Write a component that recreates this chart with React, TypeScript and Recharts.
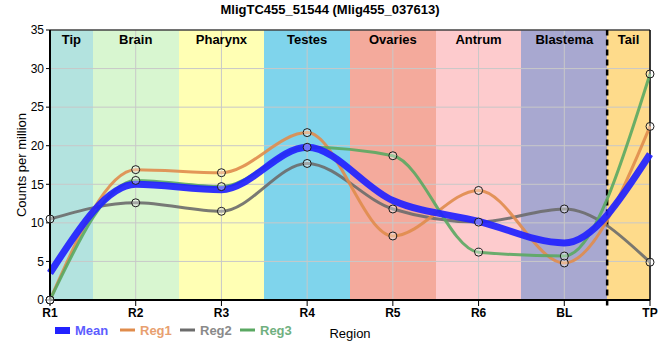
import React from 'react';
import {
  ComposedChart,
  Line,
  XAxis,
  YAxis,
  CartesianGrid,
  ReferenceArea,
  ReferenceLine,
} from 'recharts';

const title = 'MligTC455_51544 (Mlig455_037613)';
const categories = ['R1', 'R2', 'R3', 'R4', 'R5', 'R6', 'BL', 'TP'];
const meanValues = [3.5, 15.0, 14.3, 19.8, 12.9, 10.2, 7.4, 18.9];
const reg1Values = [0, 16.9, 16.5, 21.7, 8.3, 14.2, 4.8, 22.5];
const reg2Values = [10.5, 12.6, 11.5, 17.7, 11.8, 10.1, 11.8, 4.9];
const reg3Values = [0, 15.5, 14.7, 19.8, 18.7, 6.2, 5.7, 29.3];
const regionNames = ['Tip', 'Brain', 'Pharynx', 'Testes', 'Ovaries', 'Antrum', 'Blastema', 'Tail'];
const regionColors = ['#b3e3df', '#d8f6d0', '#ffffb4', '#7fd4ec', '#f4aa9c', '#fdcbcd', '#a8a8d0', '#fedb8b'];
const yTicks = [0, 5, 10, 15, 20, 25, 30, 35];

const FONT = '"Liberation Sans", Arial, sans-serif';

const data = categories.map((c, i) => ({
  x: i,
  mean: meanValues[i],
  reg1: reg1Values[i],
  reg2: reg2Values[i],
  reg3: reg3Values[i],
}));

const last = categories.length - 1;
const regionStarts = regionNames.map((_, i) => Math.max(0, i - 0.5));

const seriesStyle = [
  { key: 'mean', name: 'Mean', color: '#2222ff', text: '#5c5cff' },
  { key: 'reg1', name: 'Reg1', color: '#e08c4c', text: '#e8a070' },
  { key: 'reg2', name: 'Reg2', color: '#6c6c6c', text: '#8a8a8a' },
  { key: 'reg3', name: 'Reg3', color: '#5aa862', text: '#70b080' },
];

const dotStyle = { r: 4, fill: 'rgba(255,255,255,0.35)', stroke: '#1a1a1a', strokeWidth: 1 };

const regionGenerator = (props: any) => {
  const scale = props?.xAxis?.scale;
  const off = props?.offset;
  const toPx = (b: number): number => {
    if (typeof scale === 'function') return scale(b);
    if (scale && typeof scale.map === 'function') return scale.map(b);
    if (off) return off.left + (b / last) * off.width;
    return 0;
  };
  return regionStarts.map((b) => Math.round(toPx(b)));
};

export default function App() {
  const legendX = [55, 120, 180, 240];
  return (
    <div style={{ position: 'absolute', left: 0, top: 0, width: 660, height: 360, fontFamily: FONT }}>
      <div
        style={{
          position: 'absolute',
          top: 2,
          left: 0,
          width: 660,
          textAlign: 'center',
          fontWeight: 'bold',
          fontSize: 13,
          color: '#000',
        }}
      >
        {title}
      </div>
      <ComposedChart
        width={660}
        height={360}
        data={data}
        margin={{ top: 30, right: 10, left: 0, bottom: 0 }}
        style={{ fontFamily: FONT }}
      >
        <CartesianGrid
          horizontal={false}
          vertical
          stroke="none"
          verticalFill={regionColors}
          fillOpacity={1}
          verticalCoordinatesGenerator={regionGenerator}
        />
        <CartesianGrid stroke="#c8c8c8" strokeWidth={1} />
        {regionNames.map((name, i) => (
          <ReferenceArea
            key={name}
            x1={regionStarts[i]}
            x2={Math.min(last, i + 0.5)}
            y1={0}
            y2={35}
            fill="none"
            fillOpacity={0}
            stroke="none"
            label={{ value: name, position: 'insideTop', fill: '#000', fontWeight: 'bold', fontSize: 13, offset: 5 }}
          />
        ))}
        <XAxis
          dataKey="x"
          type="number"
          domain={[0, last]}
          ticks={categories.map((_, i) => i)}
          tickFormatter={(v: number) => categories[v] ?? ''}
          height={60}
          axisLine={{ stroke: '#000', strokeWidth: 2 }}
          tickLine={{ stroke: '#000' }}
          tick={{ fill: '#000', fontSize: 12, fontWeight: 'bold' }}
          label={{ value: 'Region', position: 'insideBottom', offset: 22, fill: '#000', fontSize: 13 }}
        />
        <YAxis
          type="number"
          domain={[0, 35]}
          ticks={yTicks}
          width={50}
          axisLine={{ stroke: '#000', strokeWidth: 2 }}
          tickLine={{ stroke: '#000' }}
          tickSize={4}
          tick={{ fill: '#000', fontSize: 12 }}
          label={{ value: 'Counts per million', angle: -90, position: 'insideLeft', offset: 21, fill: '#000', fontSize: 13, style: { textAnchor: 'middle' } }}
        />
        <ReferenceLine y={35} stroke="#000" strokeWidth={1} />
        <ReferenceLine x={last} stroke="#000" strokeWidth={1.5} />
        <ReferenceLine
          segment={[{ x: last - 0.5, y: -0.7 }, { x: last - 0.5, y: 35 }]}
          ifOverflow="visible"
          stroke="#000"
          strokeWidth={2.5}
          strokeDasharray="6 4"
        />
        <Line type="monotone" dataKey="reg2" stroke="#6c6c6c" strokeWidth={3} strokeOpacity={0.9} dot={false} isAnimationActive={false} />
        <Line type="monotone" dataKey="reg1" stroke="#e08c4c" strokeWidth={3} strokeOpacity={0.9} dot={false} isAnimationActive={false} />
        <Line type="monotone" dataKey="reg3" stroke="#5aa862" strokeWidth={3} strokeOpacity={0.9} dot={false} isAnimationActive={false} />
        <Line type="monotone" dataKey="mean" stroke="#2222ff" strokeWidth={7} strokeOpacity={0.92} dot={false} isAnimationActive={false} />
        <Line type="monotone" dataKey="reg1" stroke="none" dot={dotStyle} activeDot={false} isAnimationActive={false} />
        <Line type="monotone" dataKey="reg2" stroke="none" dot={dotStyle} activeDot={false} isAnimationActive={false} />
        <Line type="monotone" dataKey="reg3" stroke="none" dot={dotStyle} activeDot={false} isAnimationActive={false} />
      </ComposedChart>
      {seriesStyle.map((s, i) => (
        <div
          key={s.key}
          style={{
            position: 'absolute',
            left: legendX[i],
            top: 322,
            display: 'flex',
            alignItems: 'center',
            fontWeight: 'bold',
            fontSize: 13,
            color: s.text,
          }}
        >
          <svg width={16} height={16} style={{ marginRight: 4 }}>
            {s.key === 'mean' ? (
              <rect x={0} y={5} width={15} height={7} fill={s.color} />
            ) : (
              <line x1={0} x2={15} y1={8} y2={8} stroke={s.color} strokeWidth={3} />
            )}
          </svg>
          <span>{s.name}</span>
        </div>
      ))}
    </div>
  );
}
